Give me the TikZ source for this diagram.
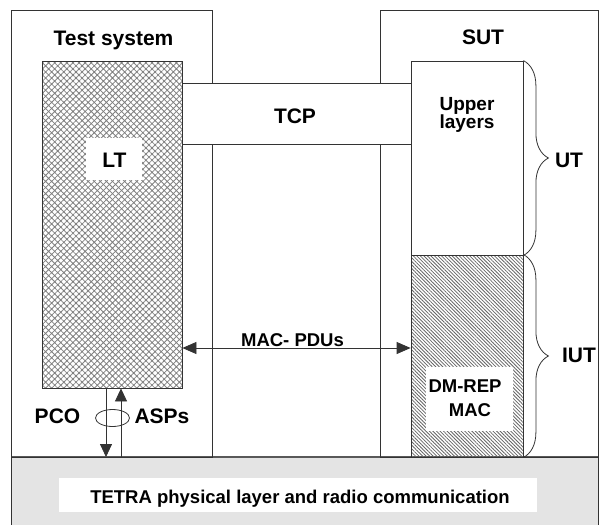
\documentclass[tikz,border=0pt]{standalone}
\usepackage{fontspec}
\setmainfont{Liberation Sans}
\usetikzlibrary{patterns.meta,arrows.meta,decorations.pathreplacing,shapes.geometric}
\definecolor{band}{HTML}{E4E4E4}
\definecolor{edge}{HTML}{333333}
\begin{document}
\begin{tikzpicture}[x=1pt,y=-1pt,
  >={Triangle[length=14pt,width=12pt]},
  big/.style={font=\fontsize{21}{24}\selectfont\bfseries,anchor=base,inner sep=0pt},
  small/.style={font=\fontsize{18.5}{22}\selectfont\bfseries,anchor=base,inner sep=0pt},
  frame/.style={draw=edge,line width=0.8pt},
  conn/.style={draw=edge,line width=0.8pt},
  bracestyle/.style={draw=edge,line width=0.8pt,decorate,decoration={brace,amplitude=25pt}}]
\useasboundingbox (0,0) rectangle (599,525);
\fill[white] (0,0) rectangle (599,525);
% bottom band
\fill[band] (11,457) rectangle (598,525);
\draw[draw=black!65,line width=1.8pt] (11,457) -- (598,457);
\draw[frame] (11,457) -- (11,525);
\draw[frame] (598,457) -- (598,525);
\fill[white] (59,478) rectangle (537,512);
\node[small] (tetra) at (300,503) {TETRA physical layer and radio communication};
% outer boxes
\node[frame,rectangle,inner sep=0pt,minimum width=201pt,minimum height=447pt] (ts) at (111.5,233.5) {};
\node[frame,rectangle,inner sep=0pt,minimum width=218pt,minimum height=447pt] (sut) at (489,233.5) {};
\node[big] (tstitle) at (113.5,45) {Test system};
\node[big] (suttitle) at (483,44) {SUT};
% TCP band
\fill[white] (182,83) rectangle (411,144);
\draw[frame] (182,83) -- (411,83);
\draw[frame] (182,144) -- (411,144);
\node[big] (tcp) at (295,123) {TCP};
% LT box
\node[draw=edge,line width=0.8pt,rectangle,inner sep=0pt,minimum width=140pt,minimum height=327pt,
  pattern={Hatch[angle=45,distance=4.3pt,line width=0.8pt]},pattern color=black!50] (lt) at (112,224.5) {};
\fill[white] (86,138) rectangle (142,180);
\node[big] (ltlabel) at (114.5,167) {LT};
% Upper layers
\node[draw=edge,line width=0.8pt,rectangle,inner sep=0pt,minimum width=112pt,minimum height=194pt,fill=white] (upper) at (467,158) {};
\node[small,font=\fontsize{19}{22}\selectfont\bfseries] (up1) at (467,110) {Upper};
\node[small,font=\fontsize{19}{22}\selectfont\bfseries] (up2) at (467,128.5) {layers};
% DM-REP MAC
\node[draw=edge,line width=0.8pt,rectangle,inner sep=0pt,minimum width=112pt,minimum height=202pt,
  pattern={Lines[angle=-45,distance=2.5pt,line width=0.8pt]},pattern color=black!60] (dm) at (467,356) {};
\fill[white] (426,367) rectangle (513,431);
\node[small] (dm1) at (465,392) {DM-REP};
\node[small] (dm2) at (470,416) {MAC};
% braces
\draw[bracestyle] (upper.north east) -- (upper.south east);
\draw[bracestyle] (dm.north east) -- (dm.south east);
\node[big] (ut) at (569,167) {UT};
\node[big] (iut) at (579,362) {IUT};
% MAC-PDUs arrow
\coordinate (macy) at (0,348);
\draw[conn,<->] (lt.east |- macy) -- (dm.west |- macy);
\node[small] (macpdu) at (292.5,346) {MAC- PDUs};
% PCO arrows
\coordinate (pa) at (106,0);
\coordinate (pb) at (121,0);
\coordinate (bandtop) at (0,457);
\draw[conn,-{Triangle[length=13pt,width=12pt]}] (lt.south -| pa) -- (pa |- bandtop);
\draw[conn,-{Triangle[length=13pt,width=12pt]}] (pb |- bandtop) -- (lt.south -| pb);
\node[draw=edge,line width=0.8pt,ellipse,minimum width=34pt,minimum height=17pt,inner sep=0pt] (pco) at (112.5,418) {};
\node[big] (pcolabel) at (57.5,423) {PCO};
\node[big] (asps) at (162,423) {ASPs};
\end{tikzpicture}
\end{document}
